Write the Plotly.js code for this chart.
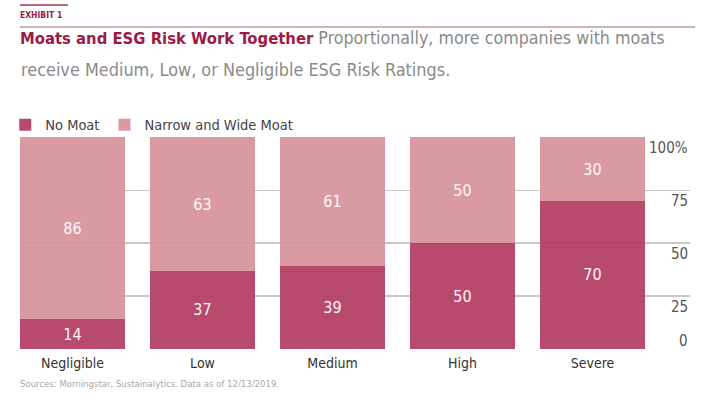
<!DOCTYPE html>
<html>
<head>
<meta charset="utf-8">
<script src="https://cdn.plot.ly/plotly-3.0.1.min.js"></script>
<style>html,body{margin:0;padding:0;background:#fff;}#chart{width:715px;height:400px;}</style>
</head>
<body>
<div id="chart"></div>
<script>
const categories = ["Negligible", "Low", "Medium", "High", "Severe"];
const noMoat = [14, 37, 39, 50, 70];
const narrowWideMoat = [86, 63, 61, 50, 30];
const tickVals = [0, 25, 50, 75, 100];
const tickLabels = ["0", "25", "50", "75", "100%"];

const FONT = "'DejaVu Sans Condensed', 'Liberation Sans Narrow', sans-serif";

const traces = [
  {
    type: "bar", name: "No Moat", x: categories, y: noMoat,
    marker: {color: "rgba(179,60,99,0.93)"},
    texttemplate: "%{y}", textposition: "inside", insidetextanchor: "middle",
    textfont: {color: "#fff6f8", size: 16, family: FONT},
    hoverinfo: "none"
  },
  {
    type: "bar", name: "Narrow and Wide Moat", x: categories, y: narrowWideMoat,
    marker: {color: "rgba(214,146,155,0.93)"},
    texttemplate: "%{y}", textposition: "inside", insidetextanchor: "middle",
    textfont: {color: "#fff6f8", size: 16, family: FONT},
    hoverinfo: "none"
  }
];

const tickAnnotations = tickVals.map((v, i) => ({
  xref: "paper", yref: "y", x: 1, y: v,
  xanchor: "right", yanchor: v === 0 ? "bottom" : "top",
  yshift: v === 0 ? -3 : 0,
  text: tickLabels[i], showarrow: false,
  font: {size: 15, color: "#555555", family: FONT}
}));

const layout = {
  width: 715, height: 400,
  margin: {l: 20, r: 25, t: 137, b: 51, autoexpand: false},
  paper_bgcolor: "#ffffff", plot_bgcolor: "#ffffff",
  font: {family: FONT, color: "#333333"},
  barmode: "stack",
  bargap: 0.192,
  showlegend: true,
  legend: {
    orientation: "h", x: -0.022, xanchor: "left", y: 0.982, yanchor: "bottom",
    bgcolor: "rgba(0,0,0,0)",
    font: {size: 14.5, color: "#444444", family: FONT},
    traceorder: "normal", itemwidth: 30
  },
  title: {
    text: "<span style='color:#9b1b45;font-size:16.5px'><b>Moats and ESG Risk Work Together</b></span> <span style='color:#8a8a8a'>Proportionally, more companies with moats</span>",
    xref: "container", yref: "container", x: 20/715, xanchor: "left",
    y: 1 - 38/400, yanchor: "middle",
    font: {size: 17.7, family: FONT}
  },
  xaxis: {
    type: "category", range: [-0.404, 4.75],
    showgrid: false, showline: false, zeroline: false, ticks: "",
    ticklabelstandoff: 4,
    tickfont: {size: 14, color: "#333333", family: FONT}
  },
  yaxis: {
    range: [0, 100.2], tickvals: tickVals, showticklabels: false,
    showgrid: true, gridcolor: "#c8c8c8", gridwidth: 1.5,
    zeroline: false, showline: false, ticks: ""
  },
  annotations: [
    {
      xref: "paper", yref: "paper", x: 0, y: (349 - 70) / 212, xanchor: "left", yanchor: "middle",
      xshift: -1,
      text: "receive Medium, Low, or Negligible ESG Risk Ratings.", showarrow: false,
      font: {size: 17.9, color: "#8a8a8a", family: FONT}
    },
    {
      xref: "paper", yref: "paper", x: 0, y: (349 - 15) / 212, xanchor: "left", yanchor: "middle",
      xshift: -2,
      text: "<b>EXHIBIT 1</b>", showarrow: false,
      font: {size: 8.5, color: "#9b1b45", family: FONT}
    },
    {
      xref: "paper", yref: "paper", x: 0, y: (349 - 383) / 212, xanchor: "left", yanchor: "middle",
      xshift: -2,
      text: "Sources: Morningstar, Sustainalytics. Data as of 12/13/2019.", showarrow: false,
      font: {size: 9.5, color: "#a8a8a8", family: FONT}
    }
  ].concat(tickAnnotations),
  shapes: [
    {type: "line", xref: "paper", yref: "paper", x0: 0, x1: 48/670, y0: (349-5)/212, y1: (349-5)/212,
     line: {color: "#b5687f", width: 2}},
    {type: "line", xref: "paper", yref: "paper", x0: 0, x1: 675/670, y0: (349-27)/212, y1: (349-27)/212,
     line: {color: "#cfb3ba", width: 2}}
  ]
};

Plotly.newPlot("chart", traces, layout, {displayModeBar: false, staticPlot: true});
</script>
</body>
</html>
